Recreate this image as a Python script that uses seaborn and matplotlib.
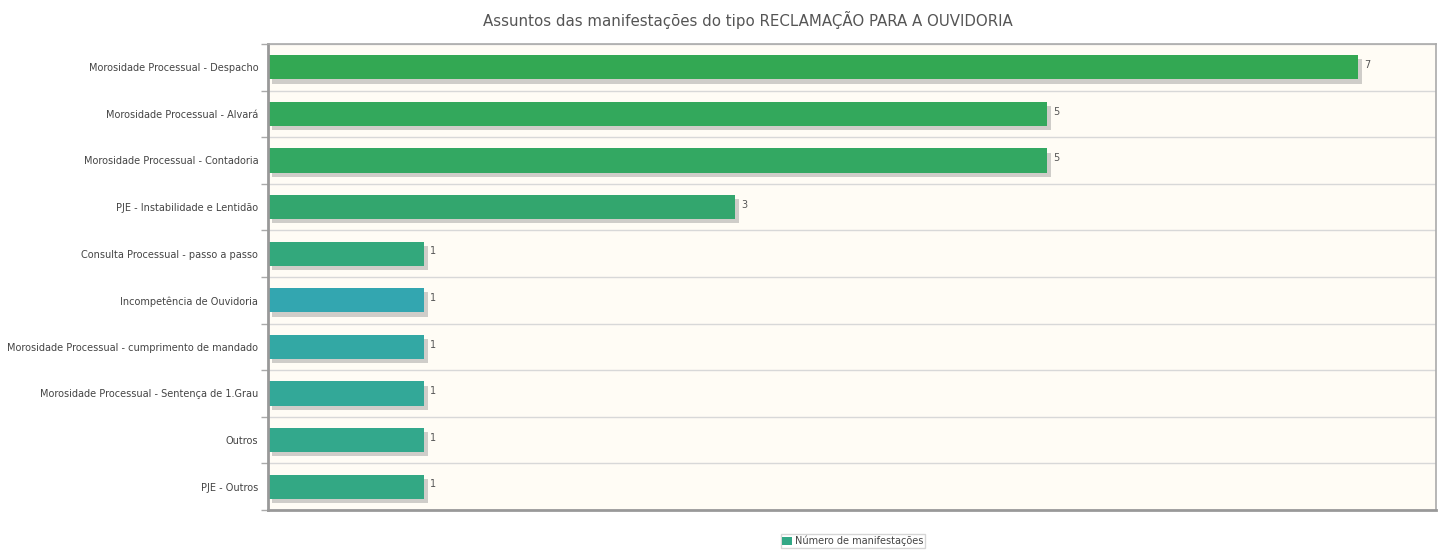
import matplotlib
matplotlib.use("Agg")
import matplotlib.pyplot as plt
import matplotlib.patheffects as pe
from matplotlib.patches import Patch
import seaborn as sns
import pandas as pd

categories = [
    "Morosidade Processual - Despacho",
    "Morosidade Processual - Alvará",
    "Morosidade Processual - Contadoria",
    "PJE - Instabilidade e Lentidão",
    "Consulta Processual - passo a passo",
    "Incompetência de Ouvidoria",
    "Morosidade Processual - cumprimento de mandado",
    "Morosidade Processual - Sentença de 1.Grau",
    "Outros",
    "PJE - Outros",
]
values = [7, 5, 5, 3, 1, 1, 1, 1, 1, 1]
bar_colors = ["#33a853", "#33a85c", "#33a862", "#33a66e", "#33a87c",
              "#33a6b0", "#33a8a4", "#33a898", "#33a88c", "#33a884"]
series_name = "Número de manifestações"

sns.set_theme(style="white")
plt.rcParams['font.family'] = ['DejaVu Sans']

df = pd.DataFrame({"cat": categories, "val": values})

fig = plt.figure(figsize=(14.43, 5.52), dpi=100)
ax = fig.add_axes([268/1443, 1 - 510/552, (1436-268)/1443, (510-44)/552])
ax.set_facecolor("#fffcf5")

sns.barplot(data=df, y="cat", x="val", hue="cat", palette=bar_colors,
            legend=False, orient="h", width=0.52, ax=ax, saturation=1)

for p in ax.patches:
    p.set_path_effects([pe.SimplePatchShadow(offset=(3, -3), shadow_rgbFace="#888888", alpha=0.4), pe.Normal()])
    p.set_edgecolor("none")

for i, v in enumerate(values):
    ax.text(v + 0.04, i - 0.05, str(v), va="center", ha="left", fontsize=7, color="#555555")

ax.set_xlim(0, 7.5)
ax.set_ylim(len(categories) - 0.5, -0.5)
ax.set_xticks([])
ax.set_yticks([i - 0.5 for i in range(len(categories) + 1)], minor=False)
ax.set_yticklabels([])
ax.set_yticks(range(len(categories)), minor=True)
ax.set_yticklabels(categories, minor=True)
ax.tick_params(axis="y", which="major", length=5, width=1, color="#aaaaaa", left=True)
ax.tick_params(axis="y", which="minor", length=0, labelsize=7.0, labelcolor="#444444", pad=7)
ax.yaxis.grid(True, which="major", color="#d8d8d8", linewidth=1)
ax.set_axisbelow(True)
ax.set_xlabel("")
ax.set_ylabel("")

for side in ["left", "bottom"]:
    ax.spines[side].set_color("#999999")
    ax.spines[side].set_linewidth(2)
for side in ["top", "right"]:
    ax.spines[side].set_color("#aaaaaa")
    ax.spines[side].set_linewidth(1.2)
    ax.spines[side].set_visible(True)

fig.text(748/1443, 1 - 20/552, "Assuntos das manifestações do tipo RECLAMAÇÃO PARA A OUVIDORIA",
         ha="center", va="center", fontsize=10.8, color="#555555")

handles = [Patch(facecolor="#33a886", edgecolor="none", label=series_name)]
fig.legend(handles=handles, loc="center", bbox_to_anchor=(853/1443, 1 - 541/552),
           fontsize=7, frameon=True, fancybox=False, edgecolor="#cccccc",
           handlelength=1.0, handleheight=1.0, handletextpad=0.3, borderpad=0.2,
           labelcolor="#444444")

fig.savefig("out.png", dpi=100)
